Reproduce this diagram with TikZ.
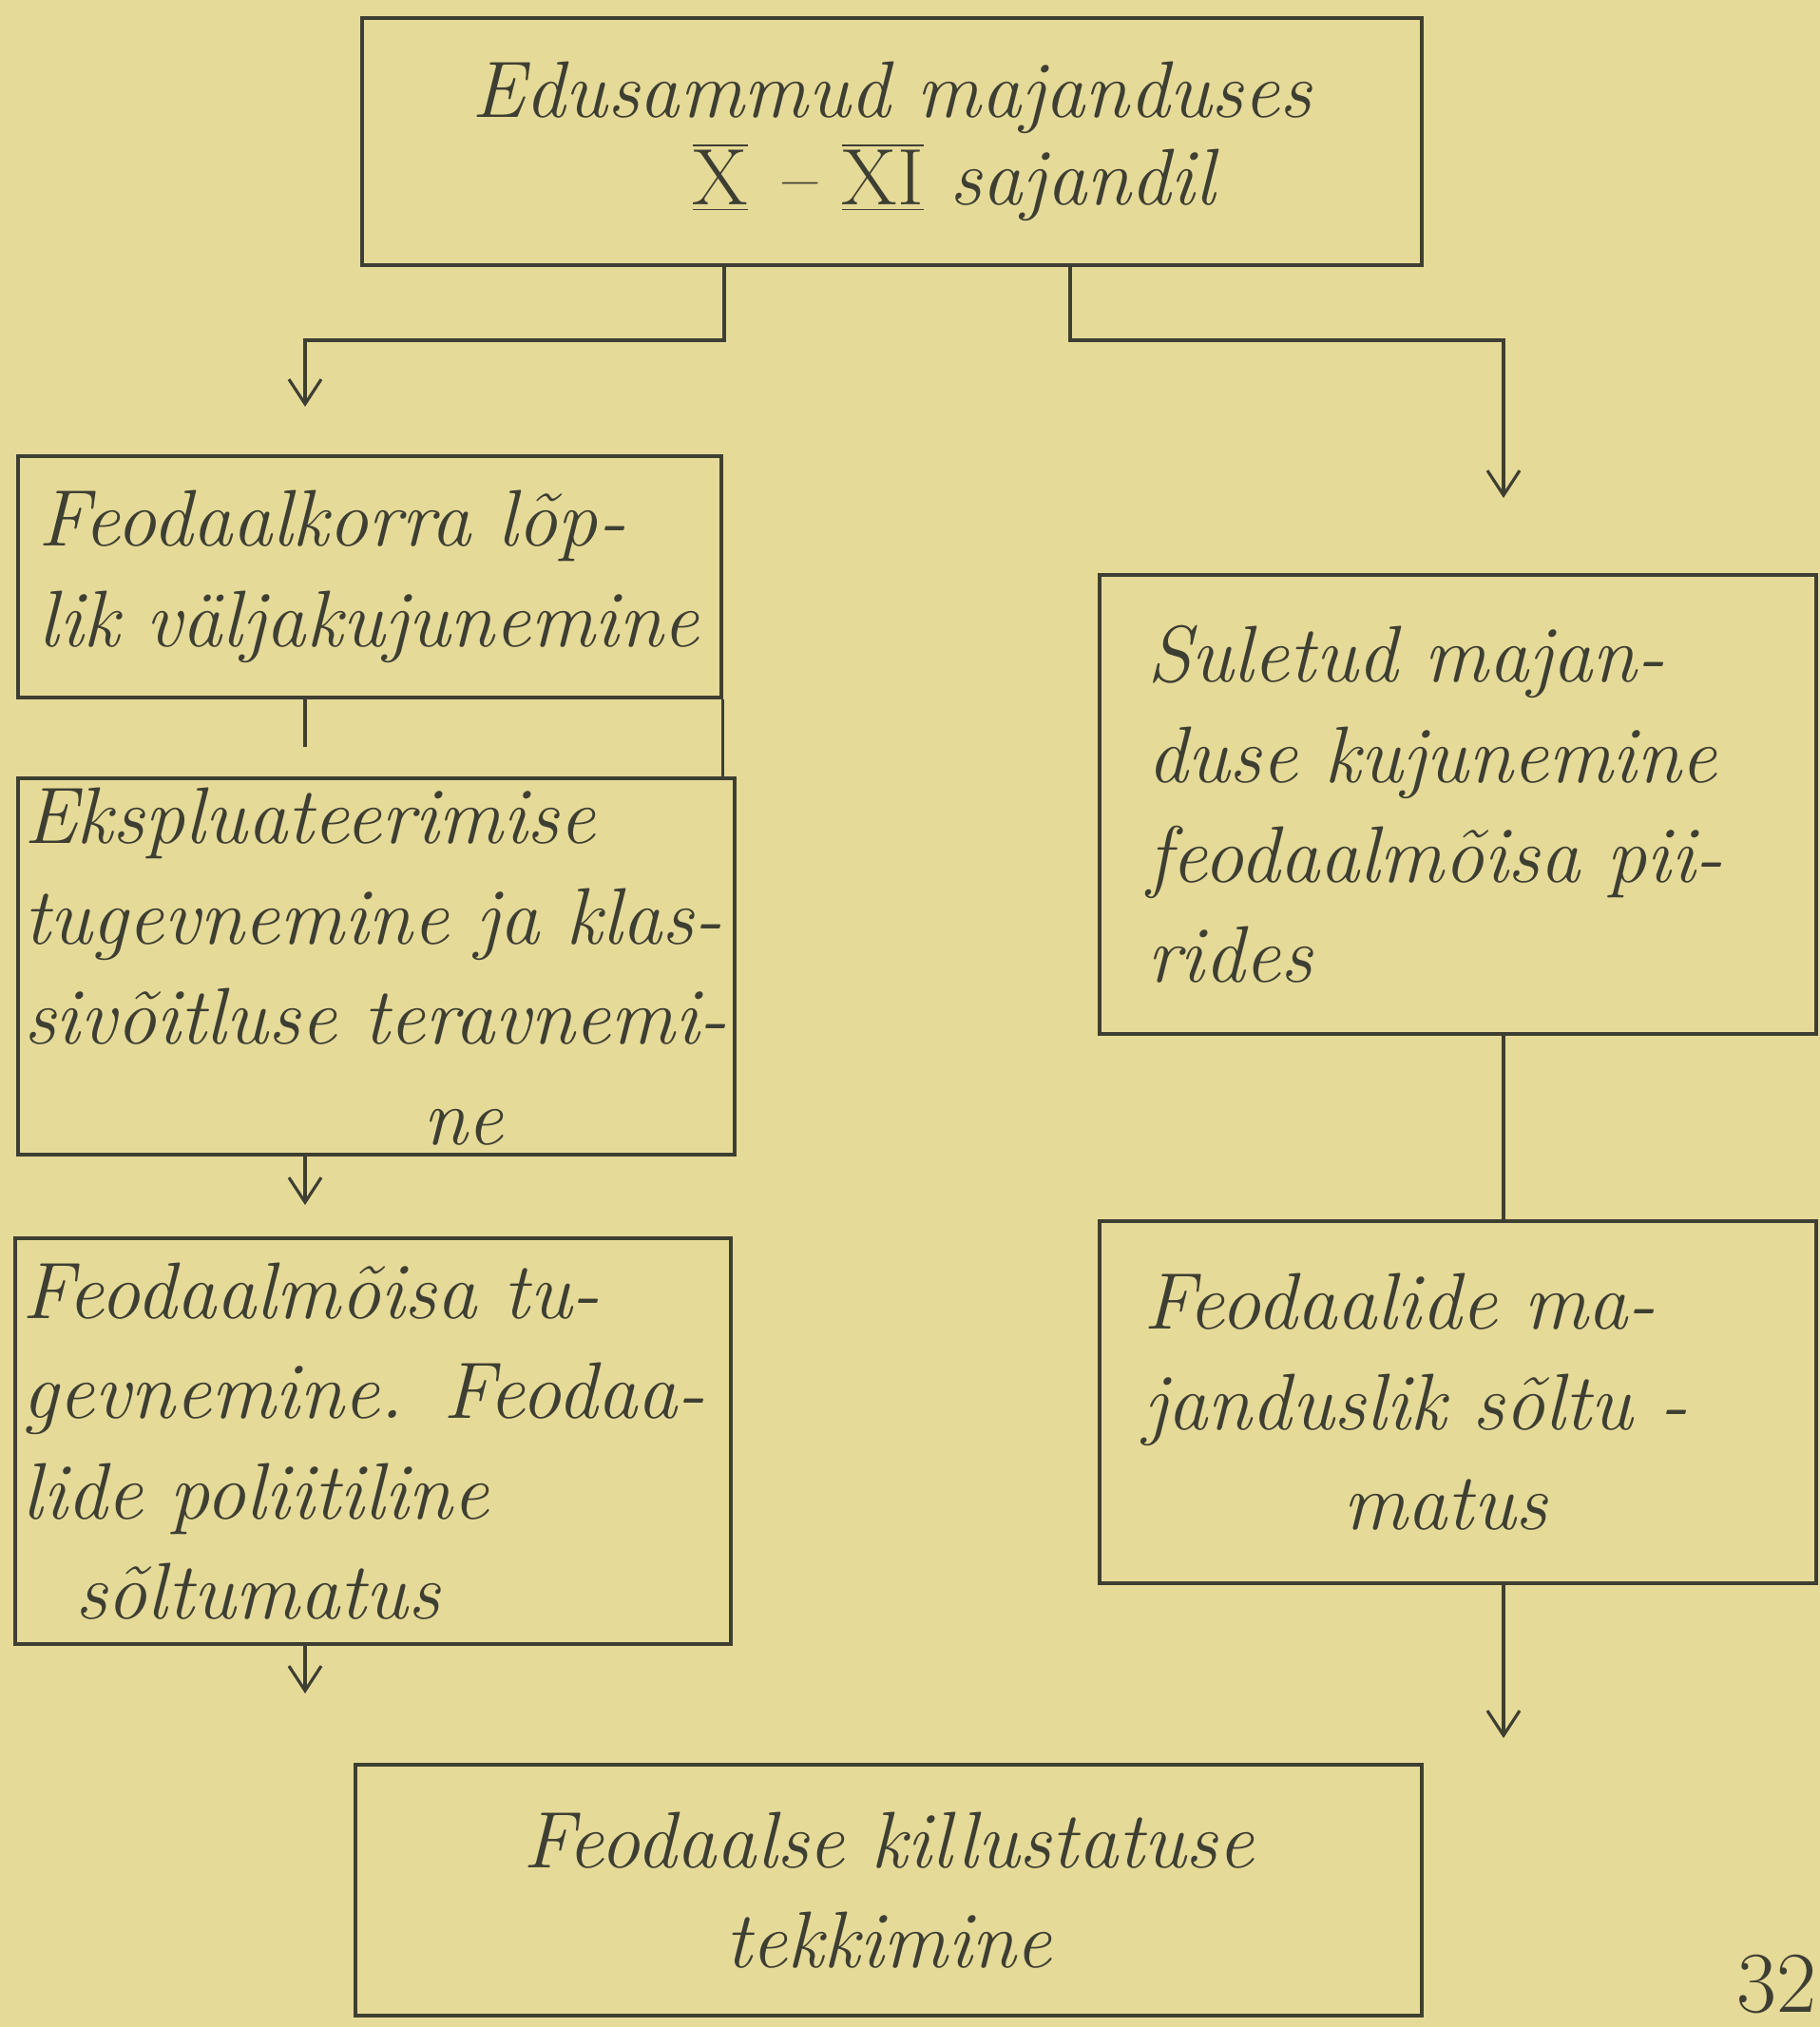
\RequirePackage{fix-cm}
\documentclass[tikz,border=0pt]{standalone}
\usepackage{fontspec}
\usepackage{tikz}
\usetikzlibrary{arrows.meta}
\definecolor{PaperYellow}{HTML}{E6DA98}
\definecolor{PencilGray}{HTML}{3E3F33}
\newcommand{\romnum}[1]{$\overline{\underline{\mathrm{#1}}}$}
\tikzset{
  box/.style={draw=PencilGray, line width=0.9pt, text=PencilGray, inner ysep=0pt,
    align=left, font=\fontsize{24}{30}\selectfont\itshape},
  link/.style={draw=PencilGray, line width=0.9pt},
  arr/.style={link, -{Straight Barb[length=2.6mm,width=3.4mm]}}
}
\begin{document}
\begin{tikzpicture}
   \fill[PaperYellow] (0,0) rectangle (19.15,-21.33);
   \useasboundingbox (0,0) rectangle (19.15,-21.33);

   \node[box, align=center, inner xsep=0.2cm, text width=10.75cm, minimum height=2.6cm]
     (top) at (9.385,-1.49) {\raisebox{-4pt}{Edusammud majanduses}\\ \hspace*{1.3cm}\romnum{X} -- \romnum{XI} sajandil};
   \node[box, inner xsep=0.22cm, text width=6.96cm, minimum height=2.54cm]
     (feod) at (3.89,-6.07) {Feodaalkorra lõp-\\lik väljakujunemine};
   \node[box, inner xsep=0.06cm, text width=7.42cm, minimum height=3.96cm]
     (ekspl) at (3.96,-10.17) {Ekspluateerimise\\tugevnemine ja klas-\\sivõitluse teravnemi-\\\hspace*{4.2cm}ne};
   \node[box, inner xsep=0.08cm, text width=7.37cm, minimum height=4.27cm]
     (mois) at (3.925,-15.165) {Feodaalmõisa tu-\\gevnemine. Feodaa-\\lide poliitiline\\\hspace*{0.55cm}sõltumatus};
   \node[box, inner xsep=0.5cm, text width=6.54cm, minimum height=4.83cm]
     (sulet) at (15.34,-8.465) {Suletud majan-\\duse kujunemine\\feodaalmõisa pii-\\rides};
   \node[box, inner xsep=0.46cm, text width=6.62cm, minimum height=3.81cm]
     (soltu) at (15.34,-14.755) {Feodaalide ma-\\janduslik sõltu -\\\hspace*{2.1cm}matus};
   \node[box, align=center, inner xsep=0.2cm, text width=10.82cm, minimum height=2.64cm]
     (kill) at (9.35,-19.89) {Feodaalse killustatuse\\tekkimine};
   \node[text=PencilGray, font=\fontsize{26}{30}\selectfont, anchor=south east, inner sep=0pt]
     (page) at (19.12,-21.2) {32};

   \coordinate (lstem) at (7.62,0);
   \coordinate (rstem) at (11.26,0);
   \coordinate (lcol) at (3.21,0);
   \coordinate (rcol) at (15.82,0);
   \coordinate (lbend) at (3.21,-3.58);
   \coordinate (rbend) at (15.82,-3.58);
   \coordinate (ltip) at (3.21,-4.28);
   \coordinate (rtip) at (15.82,-5.24);
   \coordinate (stub) at (3.21,-7.86);
   \coordinate (tipa) at (3.21,-12.68);
   \coordinate (tipb) at (3.21,-17.82);
   \coordinate (tipc) at (15.82,-18.29);

   \draw[arr] (top.south -| lstem) |- (lbend) -- (ltip);
   \draw[arr] (top.south -| rstem) |- (rbend) -- (rtip);
   \draw[link] (feod.south -| lcol) -- (stub);
   \draw[link] (feod.south east) -- (feod.south east |- ekspl.north);
   \draw[arr] (ekspl.south -| lcol) -- (tipa);
   \draw[arr] (mois.south -| lcol) -- (tipb);
   \draw[link] (sulet.south -| rcol) -- (soltu.north -| rcol);
   \draw[arr] (soltu.south -| rcol) -- (tipc);
\end{tikzpicture}
\end{document}
